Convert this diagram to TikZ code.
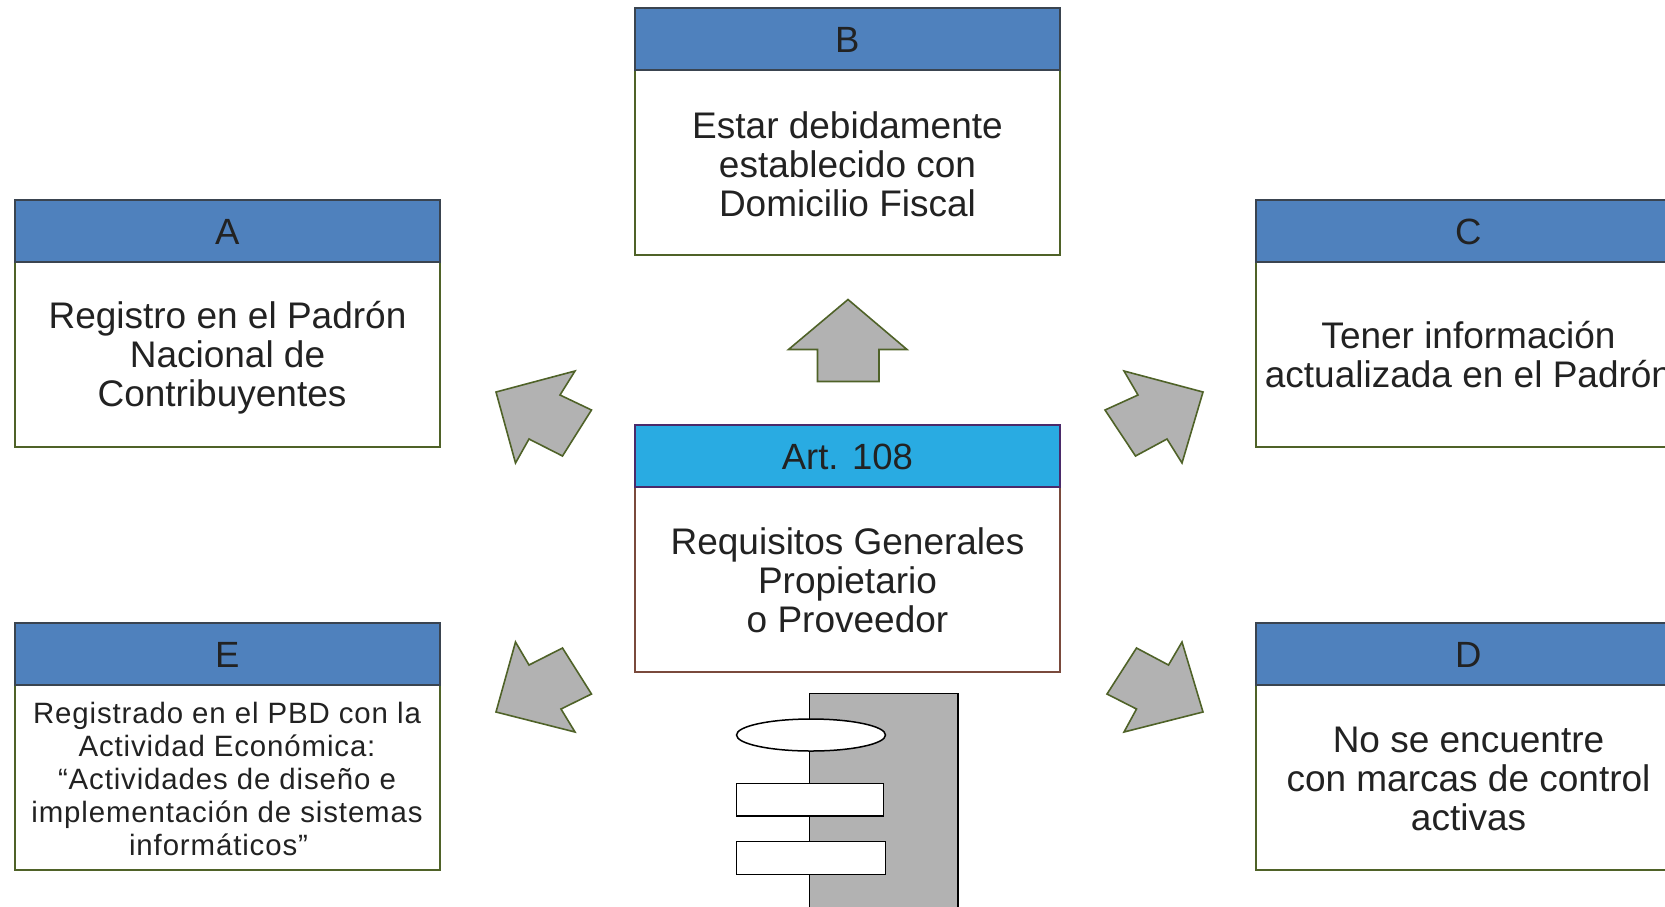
\documentclass[tikz,border=0pt]{standalone}
\usepackage{fontspec}
\setmainfont{Liberation Sans}
\newfontfamily\spaced[LetterSpace=3]{Liberation Sans}
\definecolor{hdrblue}{HTML}{4F81BD}
\definecolor{hdrcyan}{HTML}{29ABE2}
\definecolor{edgegreen}{HTML}{4F6228}
\definecolor{edgedark}{HTML}{3A4450}
\definecolor{edgebrown}{HTML}{7A4A3C}
\definecolor{edgeplum}{HTML}{4A2A6A}
\definecolor{arrowgrey}{HTML}{B2B2B2}
\definecolor{inktext}{HTML}{222222}
\tikzset{
  hdrbox/.style={draw=edgedark,fill=hdrblue,line width=1.8pt,minimum width=425pt,minimum height=62pt,anchor=north west,inner sep=0pt,text=inktext,font=\fontsize{36.5}{39}\selectfont},
  hdrlabel/.style={text=inktext,inner sep=0pt,font=\fontsize{36.5}{39}\selectfont},
  bodybox/.style={draw=edgegreen,fill=white,line width=1.8pt,minimum width=425pt,minimum height=185pt,anchor=north west,inner sep=0pt,text=inktext,align=center},
  textline/.style={text=inktext,align=center,inner sep=0pt,font=\fontsize{37}{39}\selectfont},
  smalltext/.style={text=inktext,align=center,inner sep=0pt,font=\spaced\fontsize{29.4}{33}\selectfont},
  blockarrow/.style={draw=edgegreen,fill=arrowgrey,line width=1.6pt,line join=miter},
  partbox/.style={draw=black,fill=white,line width=1.5pt}
}
\begin{document}
\begin{tikzpicture}[x=1pt,y=-1pt]
\useasboundingbox (0,0) rectangle (1665,906);
% boxes
\node[bodybox] (Ab) at (14,261) {};
\node[hdrbox] (Ah) at (14,199) {};
\node[hdrlabel] (Al) at ([yshift=-1pt]Ah.center) {A};
\node[textline] (At) at (227.5,358) {Registro en el Padrón\\Nacional de\\\mbox{Contribuyentes\hspace{11pt}}};
\node[bodybox] (Bb) at (634,69) {};
\node[hdrbox] (Bh) at (634,7) {};
\node[hdrlabel] (Bl) at ([yshift=-1pt]Bh.center) {B};
\node[textline] (Bt) at (847.5,164.3) {Estar debidamente\\establecido con\\Domicilio Fiscal};
\node[bodybox] (Cb) at (1255,261) {};
\node[hdrbox] (Ch) at (1255,199) {};
\node[hdrlabel] (Cl) at ([yshift=-1pt]Ch.center) {C};
\node[textline] (Ct) at (1468.5,354.5) {Tener información\\actualizada en el Padrón};
\node[bodybox] (Db) at (1255,684) {};
\node[hdrbox] (Dh) at (1255,622) {};
\node[hdrlabel] (Dl) at ([yshift=-1pt]Dh.center) {D};
\node[textline] (Dt) at (1468.5,778.5) {No se encuentre\\con marcas de control\\activas};
\node[bodybox] (Eb) at (14,684) {};
\node[hdrbox] (Eh) at (14,622) {};
\node[hdrlabel] (El) at ([yshift=-1pt]Eh.center) {E};
\node[smalltext] (Et) at (227,778.5) {Registrado en el PBD con la\\Actividad Económica:\\“Actividades de diseño e\\implementación de sistemas\\\mbox{informáticos”\hspace{17pt}}};
\node[bodybox,draw=edgebrown] (Gb) at (634,486) {};
\node[hdrbox,draw=edgeplum,fill=hdrcyan] (Gh) at (634,424) {};
\node[hdrlabel] (Gl) at ([yshift=-1pt]Gh.center) {Art. 108};
\node[textline] (Gt) at (847.5,580) {Requisitos Generales\\Propietario\\o Proveedor};
% block arrows
\draw[blockarrow] (848,299.5) -- (907,349.5) -- (879,349.5) -- (879,381.5) -- (817.5,381.5) -- (817.5,349.5) -- (788.5,349.5) -- cycle;
\draw[blockarrow] (496,392) -- (575,371) -- (560,395) -- (591.5,410) -- (562.5,456) -- (529,439) -- (515.5,463) -- cycle;
\draw[blockarrow] (1203,392) -- (1124,371) -- (1138,395) -- (1105,410) -- (1135.5,456) -- (1167,439) -- (1182,463) -- cycle;
\draw[blockarrow] (496,712) -- (575,732) -- (561,709) -- (591.5,694) -- (562.5,648) -- (529,665) -- (515.5,642) -- cycle;
\draw[blockarrow] (1203,712) -- (1124,732) -- (1136.5,709) -- (1107,694) -- (1136.5,648) -- (1168.5,665) -- (1182,642) -- cycle;
% component symbol
\draw[draw=black,fill=arrowgrey,line width=1.5pt] (809.5,915) -- (809.5,693.5) -- (958,693.5) -- (958,915);
\draw[partbox] (811,735) ellipse [x radius=74.5pt,y radius=16pt];
\draw[partbox] (736.5,783.5) rectangle (883.5,816);
\draw[partbox] (736.5,841.5) rectangle (885.5,874.5);
\end{tikzpicture}
\end{document}
